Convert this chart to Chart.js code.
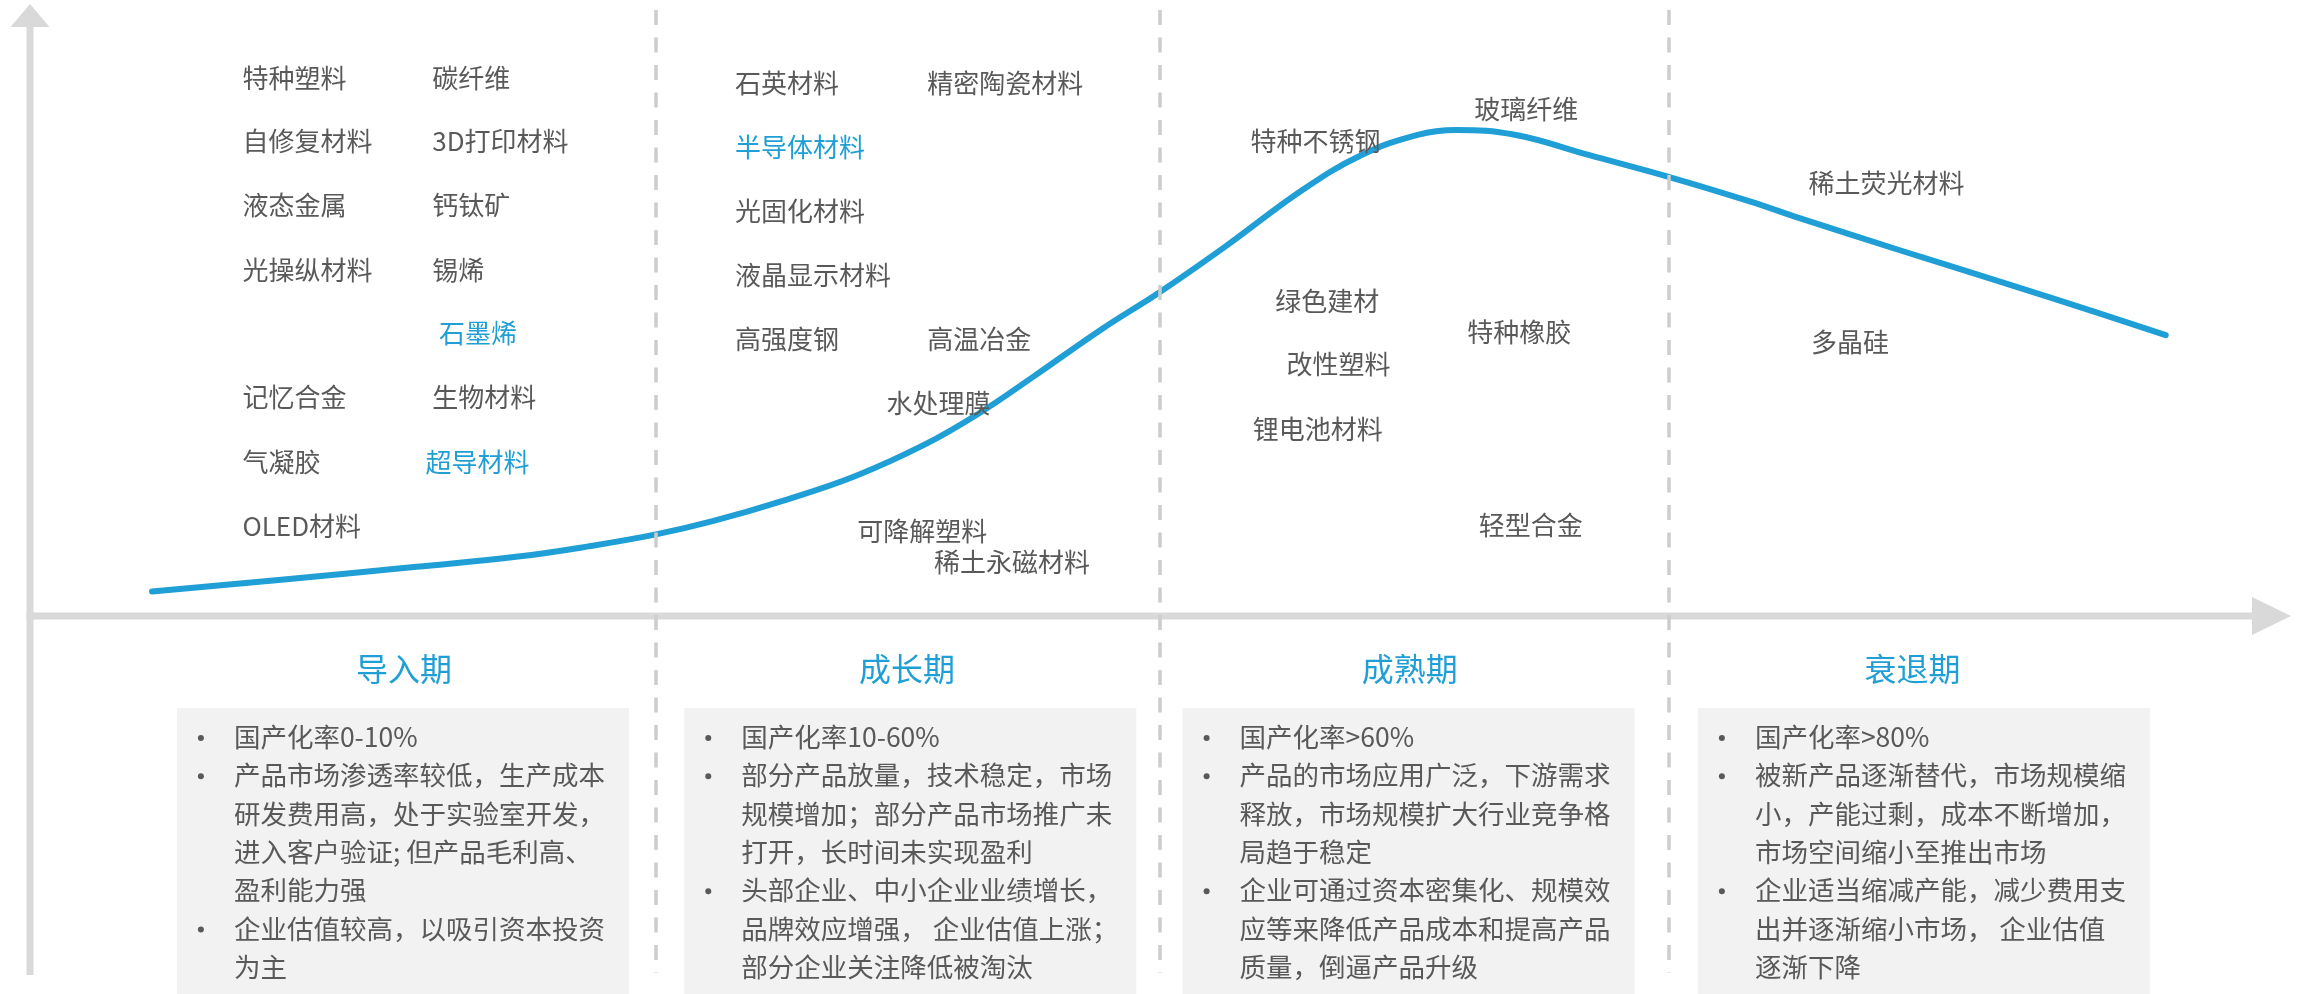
<!DOCTYPE html>
<html lang="zh-CN">
<head>
<meta charset="utf-8">
<title>新材料产业生命周期</title>
<script src="https://cdn.jsdelivr.net/npm/chart.js@4.4.1/dist/chart.umd.min.js"></script>
<style>
  html, body { margin: 0; padding: 0; background: #fff; }
  #lifecycle { display: block; }
</style>
</head>
<body>
<canvas id="lifecycle" width="2308" height="994"></canvas>
<script>
// stages along the time axis (x runs 0-100, y = market size 0-100)
const stageNames = ['导入期', '成长期', '成熟期', '衰退期'];
const stageBounds = [27.7, 50.0, 72.5];

// lifecycle curve
const curveX = [5.4, 11.0, 17.1, 21.6, 24.7, 27.7, 30.2, 33.3, 36.5, 39.6, 42.0, 44.4, 47.5, 50.0,
  52.9, 56.3, 58.9, 61.4, 63.1, 65.7, 69.0, 72.5, 76.1, 78.3, 82.7, 87.2, 91.6, 94.5];
const curveY = [4.1, 6.0, 8.2, 9.9, 11.6, 13.6, 15.8, 19.2, 23.3, 28.6, 33.8, 39.9, 48.0, 54.0,
  61.6, 71.0, 76.8, 80.2, 81.0, 80.2, 76.8, 73.2, 69.1, 66.3, 61.0, 55.7, 50.4, 46.8];

// materials placed in each stage
const materials = [
  '特种塑料', '碳纤维', '自修复材料', '3D打印材料', '液态金属', '钙钛矿', '光操纵材料', '锡烯',
  '石墨烯', '记忆合金', '生物材料', '气凝胶', '超导材料', 'OLED材料',
  '石英材料', '精密陶瓷材料', '半导体材料', '光固化材料', '液晶显示材料', '高强度钢', '高温冶金',
  '水处理膜', '可降解塑料', '稀土永磁材料',
  '特种不锈钢', '玻璃纤维', '绿色建材', '特种橡胶', '改性塑料', '锂电池材料', '轻型合金',
  '稀土荧光材料', '多晶硅'
];
const highlighted = ['石墨烯', '超导材料', '半导体材料'];

// stage descriptions: one array per stage, one array of lines per bullet
const stageNotes = [
  [
    ['国产化率0-10%'],
    ['产品市场渗透率较低，生产成本', '研发费用高，处于实验室开发，', '进入客户验证; 但产品毛利高、', '盈利能力强'],
    ['企业估值较高，以吸引资本投资', '为主']
  ],
  [
    ['国产化率10-60%'],
    ['部分产品放量，技术稳定，市场', '规模增加；部分产品市场推广未', '打开，长时间未实现盈利'],
    ['头部企业、中小企业业绩增长，', '品牌效应增强， 企业估值上涨；', '部分企业关注降低被淘汰']
  ],
  [
    ['国产化率>60%'],
    ['产品的市场应用广泛，下游需求', '释放，市场规模扩大行业竞争格', '局趋于稳定'],
    ['企业可通过资本密集化、规模效', '应等来降低产品成本和提高产品', '质量，倒逼产品升级']
  ],
  [
    ['国产化率>80%'],
    ['被新产品逐渐替代，市场规模缩', '小，产能过剩，成本不断增加，', '市场空间缩小至推出市场'],
    ['企业适当缩减产能，减少费用支', '出并逐渐缩小市场， 企业估值', '逐渐下降']
  ]
];

// layout (in axis units) for the annotations
const materialX = [9.4, 17.8, 9.4, 17.8, 9.4, 17.8, 9.4, 17.8, 18.1, 9.4, 17.8, 9.4, 17.5, 9.4,
  31.2, 39.7, 31.2, 31.2, 31.2, 31.2, 39.7, 37.9, 36.6, 40.0,
  54.0, 63.9, 55.1, 63.6, 55.6, 54.1, 64.1,
  78.7, 78.8];
const materialY = [89.7, 89.7, 79.1, 79.1, 68.4, 68.4, 57.7, 57.7, 47.2, 36.5, 36.5, 25.7, 25.7, 15.0,
  88.8, 88.8, 78.2, 67.5, 56.8, 46.2, 46.2, 35.5, 14.2, 9.0,
  79.1, 84.4, 52.5, 47.3, 41.9, 31.2, 15.2,
  72.1, 45.7];
const titleX = [16.55, 38.8, 61.05, 83.3];
const boxLeft = [6.5, 28.95, 51.0, 73.8];
const boxWidth = 20;

const BLUE = '#1f9fd5';
const TEXT = '#595959';
const AXIS = '#d9d9d9';
const FONT = '"Noto Sans CJK SC", "Noto Sans", sans-serif';

const lifecyclePlugin = {
  id: 'lifecycle',
  beforeDatasetsDraw(chart) {
    const { ctx, chartArea: a } = chart;
    ctx.save();
    ctx.fillStyle = AXIS;
    // y axis with arrow
    ctx.fillRect(a.left - 3.5, a.top + 10, 7, chart.height - 19 - (a.top + 10));
    ctx.beginPath();
    ctx.moveTo(a.left, a.top - 12);
    ctx.lineTo(a.left - 19.5, a.top + 11);
    ctx.lineTo(a.left + 19.5, a.top + 11);
    ctx.closePath();
    ctx.fill();
    // x axis with arrow
    ctx.fillRect(a.left - 3.5, a.bottom - 3.5, (a.right - 37) - (a.left - 3.5), 7);
    ctx.beginPath();
    ctx.moveTo(a.right + 1, a.bottom);
    ctx.lineTo(a.right - 38, a.bottom - 19);
    ctx.lineTo(a.right - 38, a.bottom + 19);
    ctx.closePath();
    ctx.fill();
    ctx.restore();
  },
  afterDatasetsDraw(chart) {
    const { ctx, chartArea: a } = chart;
    const xs = chart.scales.x, ys = chart.scales.y;
    ctx.save();

    // stage separators
    ctx.strokeStyle = '#cdcdcd';
    ctx.lineWidth = 3.5;
    ctx.setLineDash([15, 12.5]);
    stageBounds.forEach(b => {
      const px = Math.round(xs.getPixelForValue(b));
      ctx.beginPath();
      ctx.moveTo(px, a.top - 6);
      ctx.lineTo(px, chart.height - 21);
      ctx.stroke();
    });
    ctx.setLineDash([]);

    // material labels
    ctx.font = '26px ' + FONT;
    ctx.textAlign = 'left';
    ctx.textBaseline = 'middle';
    materials.forEach((name, i) => {
      ctx.fillStyle = highlighted.includes(name) ? BLUE : TEXT;
      ctx.fillText(name, xs.getPixelForValue(materialX[i]), ys.getPixelForValue(materialY[i]));
    });

    // stage titles
    ctx.font = '32px ' + FONT;
    ctx.textAlign = 'center';
    ctx.fillStyle = BLUE;
    stageNames.forEach((name, i) => {
      ctx.fillText(name, xs.getPixelForValue(titleX[i]), a.bottom + 53);
    });

    // description boxes
    const boxTop = a.bottom + 92;
    const w = xs.getPixelForValue(boxWidth) - xs.getPixelForValue(0);
    stageNotes.forEach((bullets, i) => {
      const left = xs.getPixelForValue(boxLeft[i]);
      ctx.fillStyle = '#f2f2f2';
      ctx.fillRect(left, boxTop, w, chart.height - boxTop);
      ctx.font = '26.5px ' + FONT;
      ctx.textAlign = 'left';
      let y = a.bottom + 121;
      bullets.forEach(lines => {
        ctx.fillStyle = TEXT;
        ctx.beginPath();
        ctx.arc(left + 24, y + 1, 3, 0, Math.PI * 2);
        ctx.fill();
        lines.forEach(line => {
          ctx.fillText(line, left + 57, y);
          y += 38.3;
        });
      });
    });
    ctx.restore();
  }
};

new Chart(document.getElementById('lifecycle'), {
  type: 'line',
  data: {
    datasets: [{
      label: '市场规模',
      data: curveX.map((x, i) => ({ x, y: curveY[i] })),
      borderColor: BLUE,
      borderWidth: 6,
      borderCapStyle: 'round',
      borderJoinStyle: 'round',
      pointRadius: 0,
      tension: 0.4,
      fill: false
    }]
  },
  options: {
    responsive: false,
    devicePixelRatio: 1,
    animation: false,
    layout: { padding: { left: 30, right: 18, top: 16, bottom: 378 } },
    scales: {
      x: { type: 'linear', min: 0, max: 100, display: false },
      y: { min: 0, max: 100, display: false }
    },
    plugins: {
      legend: { display: false },
      tooltip: { enabled: false }
    }
  },
  plugins: [lifecyclePlugin]
});
</script>
</body>
</html>
